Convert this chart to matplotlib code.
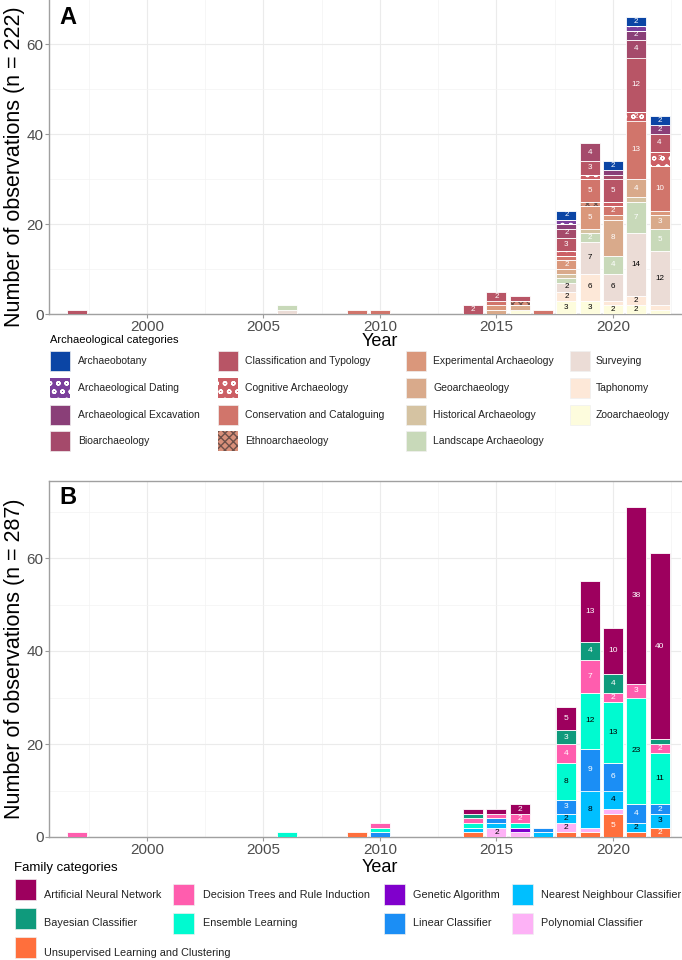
import matplotlib
matplotlib.use("Agg")
import matplotlib.pyplot as plt
from matplotlib.patches import Rectangle
from matplotlib.ticker import MultipleLocator
import numpy as np

plt.rcParams["font.family"] = ["Liberation Sans", "DejaVu Sans"]

W, H = 682, 960

years = [1997, 2006, 2009, 2010, 2014, 2015, 2016, 2017, 2018, 2019, 2020, 2021, 2022]

# Panel A: archaeological categories (counts per year)
arch_names = [
    "Archaeobotany", "Archaeological Dating", "Archaeological Excavation", "Bioarchaeology",
    "Classification and Typology", "Cognitive Archaeology", "Conservation and Cataloguing",
    "Ethnoarchaeology", "Experimental Archaeology", "Geoarchaeology", "Historical Archaeology",
    "Landscape Archaeology", "Surveying", "Taphonomy", "Zooarchaeology",
]
archaeobotany = [0, 0, 0, 0, 0, 0, 0, 0, 2, 0, 2, 2, 2]
arch_dating = [0, 0, 0, 0, 0, 0, 0, 0, 1, 0, 0, 1, 0]
arch_excavation = [0, 0, 0, 0, 0, 0, 0, 0, 1, 0, 1, 2, 2]
bioarchaeology = [0, 0, 0, 0, 0, 0, 0, 0, 2, 4, 1, 4, 0]
classification = [1, 0, 0, 0, 2, 2, 1, 0, 3, 3, 5, 12, 4]
cognitive = [0, 0, 0, 0, 0, 0, 0, 0, 1, 1, 1, 2, 3]
conservation = [0, 0, 1, 1, 0, 1, 0, 1, 1, 5, 2, 13, 10]
ethnoarchaeology = [0, 0, 0, 0, 0, 0, 1, 0, 0, 1, 0, 0, 0]
experimental = [0, 0, 0, 0, 0, 1, 0, 0, 2, 5, 1, 0, 1]
geoarchaeology = [0, 0, 0, 0, 0, 1, 1, 0, 1, 0, 8, 4, 3]
historical = [0, 0, 0, 0, 0, 0, 0, 0, 1, 1, 0, 1, 0]
landscape = [0, 1, 0, 0, 0, 0, 0, 0, 1, 2, 4, 7, 5]
surveying = [0, 1, 0, 0, 0, 0, 0, 0, 2, 7, 6, 14, 12]
taphonomy = [0, 0, 0, 0, 0, 0, 0, 0, 2, 6, 1, 2, 1]
zooarchaeology = [0, 0, 0, 0, 0, 0, 1, 0, 3, 3, 2, 2, 1]
arch_values = [archaeobotany, arch_dating, arch_excavation, bioarchaeology, classification,
               cognitive, conservation, ethnoarchaeology, experimental, geoarchaeology,
               historical, landscape, surveying, taphonomy, zooarchaeology]

# Panel B: family categories (counts per year)
fam_names = [
    "Artificial Neural Network", "Bayesian Classifier", "Decision Trees and Rule Induction",
    "Ensemble Learning", "Genetic Algorithm", "Linear Classifier",
    "Nearest Neighbour Classifier", "Polynomial Classifier", "Unsupervised Learning and Clustering",
]
ann = [0, 0, 0, 0, 1, 1, 2, 0, 5, 13, 10, 38, 40]
bayesian = [0, 0, 0, 0, 1, 0, 0, 0, 3, 4, 4, 0, 1]
decision_trees = [1, 0, 0, 1, 1, 1, 2, 0, 4, 7, 2, 3, 2]
ensemble = [0, 1, 0, 1, 1, 0, 1, 0, 8, 12, 13, 23, 11]
genetic = [0, 0, 0, 0, 0, 0, 1, 0, 0, 0, 0, 0, 0]
linear = [0, 0, 0, 1, 0, 1, 0, 1, 3, 9, 6, 4, 2]
nearest = [0, 0, 0, 0, 1, 1, 0, 1, 2, 8, 4, 2, 3]
polynomial = [0, 0, 0, 0, 0, 2, 1, 0, 2, 1, 1, 0, 0]
unsupervised = [0, 0, 1, 0, 1, 0, 0, 0, 1, 1, 5, 1, 2]
fam_values = [ann, bayesian, decision_trees, ensemble, genetic, linear, nearest,
              polynomial, unsupervised]

# styles
arch_colors = ["#0B45A5", "#7B3F9C", "#8A3F78", "#A54A6B", "#B85566", "#CC5F65", "#D1756B",
               "#D8907A", "#DA977B", "#D9AA8B", "#D5C3A2", "#C8D9B9", "#EBDCD6", "#FDE8D8",
               "#FDFCDD"]
arch_hatch = [None, "oo", None, None, None, "oo", None, "xxxx", None, None, None, None,
              None, None, None]
arch_hcolor = [None, "white", None, None, None, "white", None, "#6E5049", None, None, None,
               None, None, None, None]
arch_txt = ["white"] * 12 + ["black"] * 3

fam_colors = ["#9D005E", "#0F9A7C", "#FF5DAE", "#00FAD0", "#8000CC", "#1B8EF5", "#00BFFF",
              "#FDB2F6", "#FF6F3C"]
fam_txt = ["white", "white", "white", "black", "white", "white", "black", "black", "white"]


def fx(x):
    return x / W


def fy(y):
    return 1 - y / H


def draw_stack(ax, values, colors, hatches, hcolors, txtcolors, fs):
    x = np.array(years, dtype=float)
    bottom = np.zeros(len(years))
    for i in reversed(range(len(values))):
        v = np.array(values[i], dtype=float)
        m = v > 0
        if hatches[i]:
            bars = ax.bar(x[m], v[m], width=0.86, bottom=bottom[m], color=colors[i],
                          edgecolor=hcolors[i], linewidth=0, hatch=hatches[i], zorder=3)
            for b in bars:
                if hasattr(b, "set_hatch_linewidth"):
                    b.set_hatch_linewidth(0.8)
            ax.bar(x[m], v[m], width=0.86, bottom=bottom[m], fill=False,
                   edgecolor="white", linewidth=0.6, zorder=4)
        else:
            ax.bar(x[m], v[m], width=0.86, bottom=bottom[m], color=colors[i],
                   edgecolor="white", linewidth=0.6, zorder=3)
        for xi, vi, bi in zip(x, v, bottom):
            if vi >= 2:
                ax.text(xi, bi + vi / 2, f"{int(vi)}", ha="center", va="center",
                        fontsize=fs, color=txtcolors[i], zorder=5)
        bottom = bottom + v


def style_axes(ax, ymax, top_spine):
    ax.set_xlim(1995.8, 2022.92)
    ax.set_ylim(0, ymax)
    ax.set_xticks([2000, 2005, 2010, 2015, 2020])
    ax.xaxis.set_minor_locator(MultipleLocator(2.5))
    ax.yaxis.set_major_locator(MultipleLocator(20))
    ax.yaxis.set_minor_locator(MultipleLocator(10))
    ax.set_axisbelow(True)
    ax.grid(which="major", color="#EBEBEB", linewidth=0.8)
    ax.grid(which="minor", color="#F3F3F3", linewidth=0.5)
    ax.tick_params(which="minor", length=0)
    ax.tick_params(which="major", length=3, color="#9A9A9A", width=0.8,
                   labelsize=11, labelcolor="#4D4D4D", pad=1)
    ax.spines["right"].set_visible(False)
    ax.spines["top"].set_visible(top_spine)
    for s in ["left", "bottom", "top"]:
        ax.spines[s].set_color("#A0A0A0")
        ax.spines[s].set_linewidth(1.0)


fig = plt.figure(figsize=(W / 100, H / 100), dpi=100)

ax_a = fig.add_axes([fx(49), fy(314), fx(681) - fx(49), 314 / H])
draw_stack(ax_a, arch_values, arch_colors, arch_hatch, arch_hcolor, arch_txt, 5.8)
style_axes(ax_a, 314 / 4.5, False)

ax_b = fig.add_axes([fx(49), fy(837), fx(681) - fx(49), (837 - 481) / H])
draw_stack(ax_b, fam_values, fam_colors, [None] * 9, [None] * 9, fam_txt, 6)
style_axes(ax_b, (837 - 481) / 4.65, True)

# panel letters and axis titles
fig.text(fx(68), fy(18), "A", fontsize=17, fontweight="bold", ha="center", va="center")
fig.text(fx(68), fy(497), "B", fontsize=17, fontweight="bold", ha="center", va="center")
fig.text(fx(15), fy(167), "Number of observations (n = 222)", rotation=90, fontsize=15.5,
         ha="center", va="center")
fig.text(fx(15), fy(659), "Number of observations (n = 287)", rotation=90, fontsize=15.5,
         ha="center", va="center")
fig.text(fx(380), fy(341), "Year", fontsize=13, ha="center", va="center")
fig.text(fx(380), fy(867), "Year", fontsize=13, ha="center", va="center")


def legend_key(x, y, w, h, color, hatch=None, hcolor=None):
    r = Rectangle((fx(x), fy(y + h)), w / W, h / H, transform=fig.transFigure,
                  facecolor=color, edgecolor=hcolor if hatch else "#F0F0F0",
                  linewidth=0 if hatch else 0.5, hatch=hatch)
    if hatch and hasattr(r, "set_hatch_linewidth"):
        r.set_hatch_linewidth(1.0)
    fig.add_artist(r)


# legend A (column-major, 4 rows)
fig.text(fx(50), fy(340), "Archaeological categories", fontsize=8, ha="left", va="center")
a_key_x = [50, 218, 406, 570]
a_txt_x = [78, 245, 433, 596]
a_row_y = [361, 388, 415, 441]
for i, name in enumerate(arch_names):
    c, r = i // 4, i % 4
    legend_key(a_key_x[c], a_row_y[r] - 10, 20, 20, arch_colors[i], arch_hatch[i],
               arch_hcolor[i])
    fig.text(fx(a_txt_x[c]), fy(a_row_y[r]), name, fontsize=7.5, ha="left", va="center",
             color="#222222")

# legend B (row-major layout as in the original)
fig.text(fx(14), fy(868), "Family categories", fontsize=9.5, ha="left", va="center")
b_order = [0, 2, 4, 6, 1, 3, 5, 7, 8]
b_key_x = [15, 173, 384, 512]
b_txt_x = [44, 203, 413, 541]
b_txt_y = [895, 923, 953]
for pos, idx in enumerate(b_order):
    c, r = pos % 4, pos // 4
    top = [879, 908, 937][r] + (5 if c > 0 else 0)
    legend_key(b_key_x[c], top, 21, 21, fam_colors[idx])
    fig.text(fx(b_txt_x[c]), fy(b_txt_y[r]), fam_names[idx], fontsize=7.8, ha="left",
             va="center", color="#222222")

fig.savefig("out.png", dpi=100)
